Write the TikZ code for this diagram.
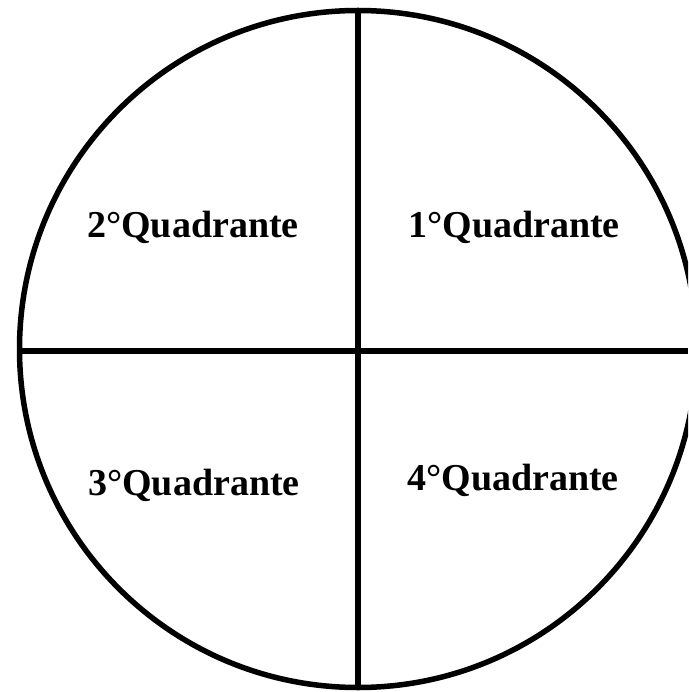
\documentclass[tikz,border=0pt]{standalone}
\usepackage{fontspec}
\setmainfont{Liberation Serif}
\begin{document}
\begin{tikzpicture}[x=1pt,y=-1pt,
  quad/.style={font=\fontsize{38}{40}\selectfont\bfseries, inner sep=0pt, anchor=base},
  edge/.style={line width=5.5pt}]
\useasboundingbox (0,0) rectangle (688,692);
\begin{scope}
\clip (0,0) rectangle (688,692);
\node[circle, draw, line width=5.5pt, minimum size=677pt, inner sep=0pt] (c) at (358,349) {};
\coordinate (L) at (17,351);
\coordinate (R) at (688,351);
\coordinate (T) at (358,10);
\coordinate (B) at (358,688);
\draw[edge] (L) -- (R);
\draw[edge] (T) -- (B);
\end{scope}
\node[quad] (q2) at (193,238) {2°Quadrante};
\node[quad] (q1) at (514,237) {1°Quadrante};
\node[quad] (q3) at (194,495) {3°Quadrante};
\node[quad] (q4) at (513,490) {4°Quadrante};
\end{tikzpicture}
\end{document}
